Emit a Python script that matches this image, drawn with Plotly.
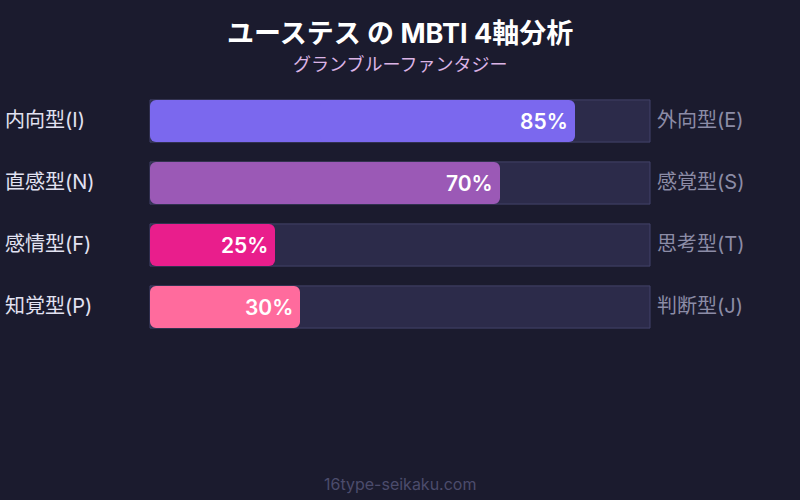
import plotly.graph_objects as go

left_labels = ["内向型(I)", "直感型(N)", "感情型(F)", "知覚型(P)"]
right_labels = ["外向型(E)", "感覚型(S)", "思考型(T)", "判断型(J)"]
values = [85, 70, 25, 30]
colors = ["#7b68ee", "#9b59b6", "#e91e8c", "#ff6b9d"]
title = "ユーステス の MBTI 4軸分析"
subtitle = "グランブルーファンタジー"
footer = "16type-seikaku.com"

FONT = "Inter, 'Noto Sans CJK JP', sans-serif"
BG = "#1b1b2e"
rows = list(range(len(values)))
W = 0.68

fig = go.Figure()
# track
fig.add_trace(go.Bar(
    y=rows, x=[100] * len(rows), base=[0] * len(rows), orientation="h", width=W,
    marker=dict(color="#2c2b4a", line=dict(color="#43436a", width=1), cornerradius=0),
    hoverinfo="skip", showlegend=False))
# value bar, left half (drawn leftwards so its rounded end sits at 0)
fig.add_trace(go.Bar(
    y=rows, x=[-v * 0.6 for v in values], base=[v * 0.6 for v in values],
    orientation="h", width=W,
    marker=dict(color=colors, line=dict(width=0), cornerradius=6),
    hoverinfo="skip", showlegend=False))
# value bar, right half (rounded end at the value)
fig.add_trace(go.Bar(
    y=rows, x=[v * 0.6 for v in values], base=[v * 0.4 for v in values],
    orientation="h", width=W,
    marker=dict(color=colors, line=dict(width=0), cornerradius=6),
    hoverinfo="skip", showlegend=False))

annotations = []
for i, v in enumerate(values):
    annotations.append(dict(x=v, y=i, xref="x", yref="y", text=f"{v}%",
                            showarrow=False, xanchor="right", xshift=-5,
                            font=dict(family=FONT, size=21, weight=600, color="#ffffff")))
    annotations.append(dict(x=0, y=i, xref="paper", yref="y", text=left_labels[i],
                            showarrow=False, xanchor="left", xshift=3, yshift=1,
                            font=dict(family=FONT, size=20, color="#e2e2f2")))
    annotations.append(dict(x=100, y=i, xref="x", yref="y", text=right_labels[i],
                            showarrow=False, xanchor="left", xshift=5, yshift=1,
                            font=dict(family=FONT, size=20, color="#8c8ca6")))
annotations += [
    dict(x=0.5, y=1 - 33 / 500, xref="paper", yref="paper", text=title,
         showarrow=False, yanchor="middle",
         font=dict(family=FONT, size=27, weight=700, color="#ffffff")),
    dict(x=0.5, y=1 - 64 / 500, xref="paper", yref="paper", text=subtitle,
         showarrow=False, yanchor="middle",
         font=dict(family=FONT, size=18, color="#dcb4e6")),
    dict(x=0.5, y=1 - 484 / 500, xref="paper", yref="paper", text=footer,
         showarrow=False, yanchor="middle",
         font=dict(family=FONT, size=16, color="#4c4c6c")),
]

fig.update_layout(
    width=800, height=500, margin=dict(l=0, r=0, t=0, b=0),
    paper_bgcolor=BG, plot_bgcolor=BG,
    barmode="overlay",
    xaxis=dict(range=[-30, 130], visible=False, fixedrange=True),
    yaxis=dict(range=[6.1129, -1.9516], visible=False, fixedrange=True),
    showlegend=False,
    annotations=annotations,
)
fig.write_html("out.html", config={"displayModeBar": False},
               post_script="document.body.style.margin='0';document.body.style.background='#1b1b2e';")
